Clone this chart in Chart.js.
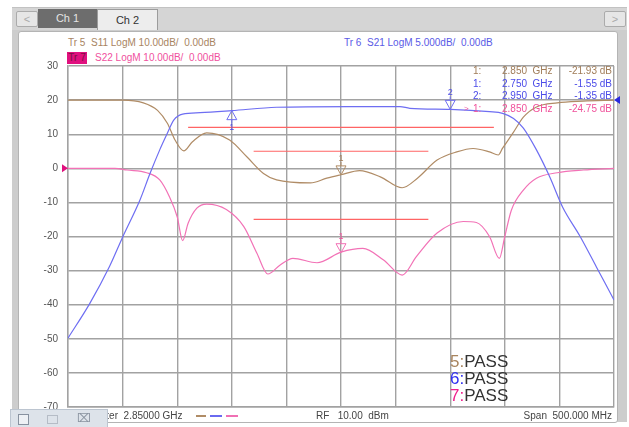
<!DOCTYPE html>
<html lang="en">
<head>
<meta charset="UTF-8">
<title>Ch 2 - S11 / S21 / S22</title>
<script src="https://cdn.jsdelivr.net/npm/chart.js"></script>
<style>
    body { margin: 0; background: #fff; font-family: Arial, "Liberation Sans", sans-serif; }
    #wrap { position: relative; width: 629px; height: 427px; overflow: hidden; }
    .abs { position: absolute; white-space: pre; }
    #strip { left: 12px; top: 7px; width: 615px; height: 24px; background: #d5d5d5; border-top: 1px solid #c2c2c2; }
    .btn { top: 11px; width: 20px; height: 14px; background: #e6e6e6; border: 1px solid #ababab; border-radius: 2px;
           color: #aaa; font-size: 11px; text-align: center; line-height: 14px; }
    #ch1 { left: 38px; top: 9px; width: 59px; height: 19px; background: #6d6d6d; color: #e4e4e4; font-size: 11px;
           text-align: center; line-height: 19px; }
    #ch2 { left: 97px; top: 9px; width: 59px; height: 22px; background: #ededed; border: 1px solid #9c9c9c; border-bottom: none;
           color: #333; font-size: 11px; text-align: center; line-height: 20px; }
    #panel { left: 12px; top: 30px; width: 615px; height: 392px; background: #cdcdcd; }
    #inner { left: 18px; top: 31px; width: 598px; height: 390px; background: #fff; border: 1px solid #b4b4b4; border-radius: 3px; }
    canvas#vna { position: absolute; left: 0; top: 0; }
    .hdr { font-size: 10px; line-height: 12px; }
    #tbl div { position: absolute; font-size: 10px; line-height: 12px; white-space: pre; }
    .pass { font-size: 17px; line-height: 17px; color: #333; }
    .stat { font-size: 10px; color: #444; top: 410px; line-height: 12px; }
    #tools { left: 10px; top: 409px; width: 96px; height: 18px; background: #dde3ea; border: 1px solid #bcc5d0; }
</style>
</head>
<body>
<div id="wrap">
    <div id="strip" class="abs"></div>
    <div class="abs btn" style="left:16px">&lt;</div>
    <div class="abs btn" style="left:604px">&gt;</div>
    <div id="ch1" class="abs">Ch 1</div>
    <div id="ch2" class="abs">Ch 2</div>
    <div id="panel" class="abs"></div>
    <div id="inner" class="abs"></div>

    <div class="abs hdr" style="left:68px;top:37px;color:#a88462">Tr 5  S11 LogM 10.00dB/  0.00dB</div>
    <div class="abs hdr" style="left:67px;top:52px;width:20px;height:12px;background:#e0107e;color:#7a1040;text-align:center">Tr 7</div>
    <div class="abs hdr" style="left:95px;top:52px;color:#f0509e">S22 LogM 10.00dB/  0.00dB</div>
    <div class="abs hdr" style="left:344px;top:37px;color:#5a5ae6">Tr 6  S21 LogM 5.000dB/  0.00dB</div>

    <canvas id="vna" width="629" height="427"></canvas>

    <div id="tbl"></div>

    <div class="abs pass" style="left:450px;top:353px"><span style="color:#a8845e">5:</span>PASS</div>
    <div class="abs pass" style="left:450px;top:370px"><span style="color:#3030f0">6:</span>PASS</div>
    <div class="abs pass" style="left:450px;top:387px"><span style="color:#f0208c">7:</span>PASS</div>

    <div class="abs stat" style="left:88px">Center  2.85000 GHz</div>
    <div class="abs" style="left:196px;top:415px;width:10px;height:2px;background:#b08c66"></div>
    <div class="abs" style="left:210px;top:415px;width:12px;height:2px;background:#6a6af0"></div>
    <div class="abs" style="left:226px;top:415px;width:12px;height:2px;background:#f070b4"></div>
    <div class="abs stat" style="left:316px">RF   10.00  dBm</div>
    <div class="abs stat" style="right:17px">Span  500.000 MHz</div>

    <div id="tools" class="abs">
        <div class="abs" style="left:7px;top:4px;width:9px;height:9px;border:1px solid #8892a0;background:#eef1f5"></div>
        <div class="abs" style="left:36px;top:5px;width:9px;height:7px;border:1px solid #b5bcc6"></div>
        <div class="abs" style="left:66px;top:1px;font-size:12px;color:#8a93a0">&#x2327;</div>
    </div>
</div>

<script>
    // frequency axis (GHz): center 2.85, span 0.5
    const fStart = 2.60;
    const fStop = 3.10;

    // Tr 5 - S11 (dB)
    const s11Freq = [2.600, 2.650, 2.669, 2.682, 2.691, 2.698, 2.706, 2.714, 2.727, 2.748, 2.764, 2.779, 2.791,
                     2.822, 2.837, 2.850, 2.867, 2.886, 2.906, 2.920, 2.938, 2.956, 2.971, 2.986, 2.994, 2.998,
                     3.008, 3.017, 3.029, 3.048, 3.072, 3.100];
    const s11Db = [0.0, 0.0, -0.8, -3.0, -6.8, -11.7, -14.9, -12.2, -9.6, -11.7, -16.7, -21.5, -23.4,
                   -24.3, -22.9, -21.9, -20.7, -22.5, -25.7, -22.9, -17.6, -15.2, -14.2, -15.2, -16.1, -14.1,
                   -9.4, -5.0, -2.0, -0.8, -0.3, 0.0];

    // Tr 6 - S21 (dB)
    const s21Freq = [2.600, 2.620, 2.638, 2.650, 2.666, 2.675, 2.684, 2.690, 2.697, 2.705, 2.721, 2.750, 2.791,
                     2.858, 2.904, 2.913, 2.950, 2.986, 2.998, 3.008, 3.017, 3.029, 3.041, 3.053, 3.069, 3.084, 3.100];
    const s21Db = [-34.9, -29.8, -24.4, -20.1, -14.6, -10.8, -7.3, -5.2, -2.9, -2.05, -1.85, -1.55, -1.05,
                   -0.95, -0.95, -1.2, -1.35, -1.7, -1.95, -2.7, -4.1, -7.3, -11.2, -15.7, -20.0, -24.5, -29.3];

    // Tr 7 - S22 (dB)
    const s22Freq = [2.600, 2.643, 2.654, 2.672, 2.684, 2.693, 2.700, 2.705, 2.710, 2.718, 2.727, 2.745, 2.761,
                     2.773, 2.783, 2.794, 2.806, 2.828, 2.850, 2.870, 2.889, 2.906, 2.919, 2.938, 2.962, 2.974,
                     2.986, 2.995, 3.000, 3.006, 3.017, 3.029, 3.048, 3.072, 3.100];
    const s22Db = [0.0, 0.0, -0.5, -1.3, -3.4, -8.4, -14.2, -21.2, -16.1, -11.7, -10.5, -12.1, -17.1,
                   -24.9, -31.0, -28.4, -26.4, -27.7, -24.6, -23.5, -26.9, -31.3, -25.9, -19.0, -15.6, -15.9,
                   -20.0, -26.4, -20.0, -12.3, -6.4, -2.9, -1.3, -0.5, 0.0];

    // limit lines: [fromGHz, toGHz, dB]
    const s21Limit = [2.71, 2.99, -4];
    const s11Limit = [2.77, 2.93, -15];
    const s22Limit = [2.77, 2.93, -15];

    // markers
    const markerTrace = ['s11', 's21', 's21', 's22'];
    const markerNum = [1, 1, 2, 1];
    const markerFreq = [2.850, 2.750, 2.950, 2.850];
    const markerDb = [-21.93, -1.55, -1.35, -24.75];

    // left axis tick labels (grid divisions)
    const yTicks = [30, 20, 10, 0, -10, -20, -30, -40, -50, -60, -70];

    const colors = { s11: '#b08c66', s21: '#6e6ef2', s22: '#f272b6', limit: '#ff6464' };
    const textColors = { s11: '#a07c58', s21: '#4a4ae8', s22: '#f0509a' };
    const axisOf = { s11: 'y11', s21: 'y21', s22: 'y' };

    function pts(fs, vs) { return fs.map((f, i) => ({ x: f, y: vs[i] })); }
    function limitPts(l) { return [{ x: l[0], y: l[2] }, { x: l[1], y: l[2] }]; }

    const traceStyle = { borderWidth: 1.2, pointRadius: 0, cubicInterpolationMode: 'monotone', fill: false };

    function limitSet(l, axis) {
        return {
            type: 'line', data: limitPts(l), yAxisID: axis, order: 10,
            borderColor: colors.limit, backgroundColor: colors.limit,
            borderWidth: 1.2, pointRadius: 0, fill: false, tension: 0
        };
    }

    // marker table built from the marker arrays
    const tbl = document.getElementById('tbl');
    markerNum.forEach((n, i) => {
        const top = 65 + i * 12.5;
        const c = textColors[markerTrace[i]];
        const mk = (txt, style) => {
            const d = document.createElement('div');
            d.textContent = txt;
            d.style.cssText = `top:${top}px;color:${c};` + style;
            tbl.appendChild(d);
        };
        if (i === 3) mk('>', 'left:464px;font-size:8px;');
        mk(n + ':', 'left:473px;');
        mk(markerFreq[i].toFixed(3) + '  GHz', 'left:502px;');
        mk(markerDb[i].toFixed(2) + ' dB', 'right:17px;');
    });

    // draws marker triangles and reference arrows
    const vnaMarks = {
        id: 'vnaMarks',
        afterDatasetsDraw(chart) {
            const c = chart.ctx;
            const sx = chart.scales.x;
            const area = chart.chartArea;
            c.save();
            c.lineWidth = 1;
            c.font = '9px Arial';
            c.textAlign = 'center';
            markerNum.forEach((n, i) => {
                const tr = markerTrace[i];
                const px = sx.getPixelForValue(markerFreq[i]);
                const py = chart.scales[axisOf[tr]].getPixelForValue(markerDb[i]);
                const up = (tr === 's21' && n === 1);
                const d = up ? 1 : -1;
                c.strokeStyle = colors[tr];
                c.fillStyle = textColors[tr];
                c.beginPath();
                c.moveTo(px, py);
                c.lineTo(px - 5, py + d * 9);
                c.lineTo(px + 5, py + d * 9);
                c.closePath();
                c.stroke();
                c.beginPath();
                c.moveTo(px, py + d * 9);
                c.lineTo(px, py + d * 13);
                c.stroke();
                c.textBaseline = up ? 'top' : 'bottom';
                c.fillText(String(n), px, py + d * 12);
            });
            // reference position arrows
            const yRef = chart.scales.y.getPixelForValue(0);
            c.fillStyle = '#e0107e';
            c.beginPath();
            c.moveTo(area.left, yRef);
            c.lineTo(area.left - 6, yRef - 4);
            c.lineTo(area.left - 6, yRef + 4);
            c.closePath();
            c.fill();
            const y21Ref = chart.scales.y21.getPixelForValue(0);
            c.fillStyle = '#2a2ae0';
            c.beginPath();
            c.moveTo(area.right, y21Ref);
            c.lineTo(area.right + 6, y21Ref - 4);
            c.lineTo(area.right + 6, y21Ref + 4);
            c.closePath();
            c.fill();
            c.restore();
        }
    };

    const gridStyle = { color: '#a2a2a2', lineWidth: 1.4, drawTicks: false };

    new Chart(document.getElementById('vna'), {
        type: 'line',
        data: {
            datasets: [
                { ...traceStyle, label: 'S21', data: pts(s21Freq, s21Db), borderColor: colors.s21, yAxisID: 'y21', order: 1 },
                { ...traceStyle, label: 'S22', data: pts(s22Freq, s22Db), borderColor: colors.s22, yAxisID: 'y', order: 2 },
                { ...traceStyle, label: 'S11', data: pts(s11Freq, s11Db), borderColor: colors.s11, yAxisID: 'y11', order: 3 },
                limitSet(s21Limit, 'y21'),
                limitSet(s11Limit, 'y11'),
                limitSet(s22Limit, 'y')
            ]
        },
        options: {
            responsive: false,
            animation: false,
            layout: { padding: { top: 66, right: 15, bottom: 20, left: 0 } },
            plugins: { legend: { display: false }, tooltip: { enabled: false } },
            scales: {
                x: {
                    type: 'linear', min: fStart, max: fStop,
                    ticks: { display: false, stepSize: 0.05 },
                    grid: gridStyle,
                    border: { color: '#a2a2a2', width: 1.4 },
                    afterFit: s => { s.height = 0; }
                },
                y: {
                    min: yTicks[yTicks.length - 1], max: yTicks[0],
                    afterBuildTicks: s => { s.ticks = yTicks.map(v => ({ value: v })); },
                    ticks: { color: '#555', font: { size: 10, family: 'Arial' }, padding: 10 },
                    grid: gridStyle,
                    border: { color: '#a2a2a2', width: 1.4 },
                    afterFit: s => { s.width = 68; }
                },
                y11: { min: -90, max: 10, display: false },
                y21: { min: -45, max: 5, display: false }
            }
        },
        plugins: [vnaMarks]
    });
</script>
</body>
</html>
